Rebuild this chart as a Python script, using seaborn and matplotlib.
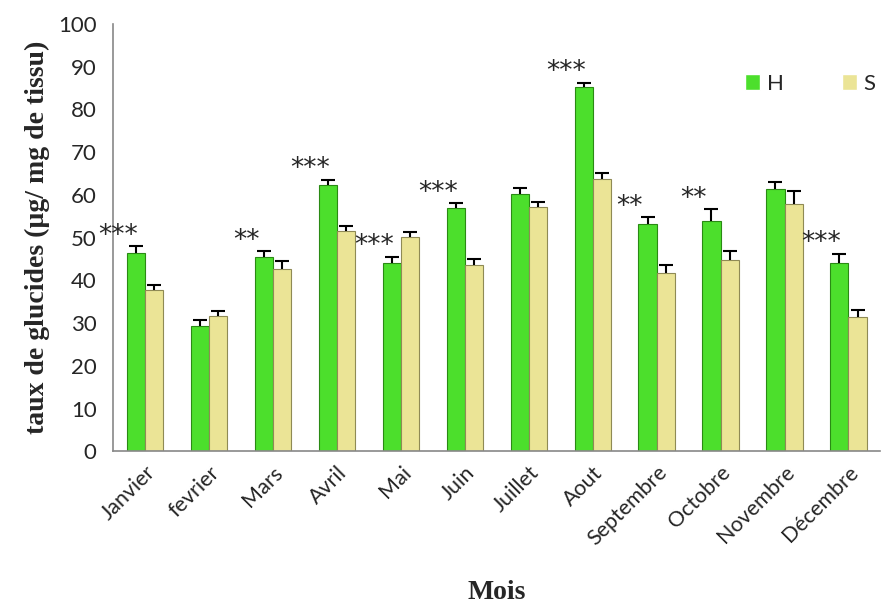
import pandas as pd
import numpy as np
import matplotlib
matplotlib.use('Agg')
import matplotlib.pyplot as plt
import seaborn as sns

# Monthly values
mois = ['Janvier', 'fevrier', 'Mars', 'Avril', 'Mai', 'Juin', 'Juillet',
        'Aout', 'Septembre', 'Octobre', 'Novembre', 'Décembre']
h_vals = [46.3, 29.4, 45.5, 62.3, 44.0, 57.0, 60.2, 85.2, 53.2, 53.8, 61.4, 44.1]
s_vals = [37.7, 31.6, 42.6, 51.5, 50.1, 43.6, 57.1, 63.6, 41.8, 44.7, 57.8, 31.5]
h_err = [1.7, 1.4, 1.3, 1.2, 1.5, 1.0, 1.4, 1.0, 1.6, 2.9, 1.5, 2.1]
s_err = [1.3, 1.3, 1.9, 1.2, 1.3, 1.3, 1.2, 1.5, 1.8, 2.1, 3.0, 1.5]
stars = ['***', '', '**', '***', '***', '***', '', '***', '**', '**', '', '***']

df = pd.DataFrame({
    'mois': mois * 2,
    'groupe': ['H'] * 12 + ['S'] * 12,
    'taux': h_vals + s_vals,
})

sns.set_style('white')
plt.rcParams['font.family'] = ['Lato', 'DejaVu Sans']

fig = plt.figure(figsize=(8.92, 6.14), dpi=100)
ax = fig.add_axes([0.127, 0.265, 0.86, 0.696])

palette = {'H': '#4cdf2c', 'S': '#ebe496'}
sns.barplot(data=df, x='mois', y='taux', hue='groupe', order=mois,
            hue_order=['H', 'S'], palette=palette, width=0.57,
            saturation=1, ax=ax)

edges = {'H': '#2a8a14', 'S': '#8f8a55'}
for cont, grp, errs in zip(ax.containers, ['H', 'S'], [h_err, s_err]):
    xs, ys = [], []
    for bar in cont:
        bar.set_edgecolor(edges[grp])
        bar.set_linewidth(0.8)
        xs.append(bar.get_x() + bar.get_width() / 2)
        ys.append(bar.get_height())
    eb = ax.errorbar(xs, ys, yerr=[np.zeros(len(errs)), errs], fmt='none',
                     ecolor='black', elinewidth=1.5, capsize=5, capthick=1.5)
    eb[1][0].set_visible(False)
    if grp == 'H':
        hx = xs

for x, y, e, s in zip(hx, h_vals, h_err, stars):
    if s:
        ax.text(x - 0.28, y + e - 0.6, s, ha='center', va='bottom',
                fontsize=19, family='DejaVu Sans')

ax.set_ylim(0, 100)
ax.set_xlim(-0.5, 11.5)
ax.set_yticks(range(0, 101, 10))
ax.set_xticks(np.arange(-0.5, 12, 1), minor=False)
ax.set_xticks(range(12), minor=True)
ax.set_xticklabels([])
ax.set_xticklabels(mois, minor=True, rotation=45, ha='right',
                   rotation_mode='anchor', fontsize=15.5)
ax.tick_params(axis='x', which='major', length=7, color='#888888', direction='out')
ax.tick_params(axis='x', which='minor', length=0, pad=8)
ax.tick_params(axis='y', length=7, color='#888888', direction='out',
               labelsize=16, pad=5)

for side in ['top', 'right']:
    ax.spines[side].set_visible(False)
for side in ['left', 'bottom']:
    ax.spines[side].set_color('#888888')
    ax.spines[side].set_linewidth(1.2)

ax.set_ylabel('taux de glucides (µg/ mg de tissu)', fontsize=20,
              fontweight='bold', family='Liberation Serif', labelpad=6)
ax.set_xlabel('Mois', fontsize=20, fontweight='bold',
              family='Liberation Serif', labelpad=22)

ax.legend(loc='upper right', bbox_to_anchor=(1.02, 0.93), ncol=2, frameon=False,
          fontsize=16, handlelength=0.7, handleheight=0.7, columnspacing=2.6,
          handletextpad=0.3, title=None)

fig.savefig('out.png', dpi=100)
